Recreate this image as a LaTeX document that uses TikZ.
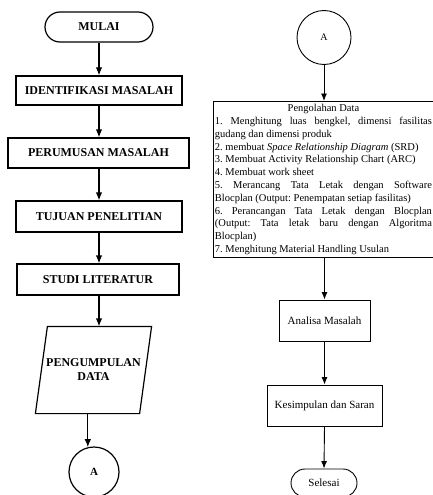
\documentclass[tikz,border=0pt]{standalone}
\usepackage{fontspec}
\setmainfont{Liberation Serif}
\usetikzlibrary{arrows.meta}
\begin{document}
\begin{tikzpicture}[x=1pt,y=-1pt,
  lbox/.style={draw,line width=1.2pt,inner sep=0pt,font=\fontsize{12}{14}\selectfont\bfseries,align=center},
  rbox/.style={draw,line width=0.9pt,inner sep=0pt,font=\fontsize{11}{13}\selectfont,align=center},
  larr/.style={line width=1.2pt,-{Latex[length=8pt,width=6.5pt]}},
  rarr/.style={line width=0.9pt,-{Latex[length=7.5pt,width=6pt]}},
]
\useasboundingbox (0,0) rectangle (432,495);
% left column
\node[lbox, rounded corners=15pt, minimum width=108pt, minimum height=30pt] (mulai) at (99,27) {MULAI};
\node[lbox, minimum width=166pt, minimum height=29pt] (ident) at (99,90.5) {IDENTIFIKASI MASALAH};
\node[lbox, minimum width=181pt, minimum height=30pt] (rumus) at (98.5,153) {PERUMUSAN MASALAH};
\node[lbox, minimum width=166pt, minimum height=31pt] (tujuan) at (99,216.5) {TUJUAN PENELITIAN};
\node[lbox, minimum width=162pt, minimum height=31pt] (studi) at (98,279.5) {STUDI LITERATUR};
\node[lbox, draw=none, minimum width=103pt, minimum height=86pt] (kumpul) at (93.5,370) {PENGUMPULAN\\DATA};
\draw[line width=1.2pt, line join=miter] ([xshift=6pt]kumpul.north west) -- ([xshift=6pt]kumpul.north east)
  -- ([xshift=-6pt]kumpul.south east) -- ([xshift=-6pt]kumpul.south west) -- cycle;
\node[lbox, circle, minimum size=50pt, font=\fontsize{11}{13}\selectfont\bfseries] (a1) at (94,472) {A};
\draw[larr] (mulai.south) -- (mulai.south |- ident.north);
\draw[larr] (mulai.south |- ident.south) -- (mulai.south |- rumus.north);
\draw[larr] (mulai.south |- rumus.south) -- (mulai.south |- tujuan.north);
\draw[larr] (mulai.south |- tujuan.south) -- (mulai.south |- studi.north);
\draw[larr] (mulai.south |- studi.south) -- (mulai.south |- kumpul.north);
\draw[larr] (kumpul.south -| a1.104) -- (a1.104);
% right column
\node[rbox, circle, minimum size=54pt, font=\fontsize{10}{12}\selectfont] (a2) at (324,37.5) {A};
\node[draw, line width=0.9pt, anchor=north west, text width=217pt, inner xsep=1.5pt, inner ysep=3pt, align=justify, font=\fontsize{10.5}{12.8}\selectfont] (olah) at (213,101) {\parindent=0pt\hyphenpenalty=10000\tolerance=10000\frenchspacing%
{\centering Pengolahan Data\par}
1. Menghitung luas bengkel, dimensi fasilitas\linebreak gudang dan dimensi produk\par
2. membuat \textit{Space Relationship Diagram} (SRD)\par
3. Membuat Activity Relationship Chart (ARC)\par
4. Membuat work sheet\par
5. Merancang Tata Letak dengan Software\linebreak Blocplan (Output: Penempatan setiap fasilitas)\par
6. Perancangan Tata Letak dengan Blocplan\linebreak (Output: Tata letak baru dengan Algoritma\linebreak Blocplan)\par
7. Menghitung Material Handling Usulan};
\node[rbox, minimum width=91pt, minimum height=41pt] (analisa) at (324.5,320.5) {Analisa Masalah};
\node[rbox, minimum width=115pt, minimum height=41pt] (simpul) at (324.5,405.5) {Kesimpulan dan Saran};
\node[rbox, rounded corners=14pt, minimum width=66pt, minimum height=28pt] (selesai) at (324,483) {Selesai};
\draw[rarr] (a2.south) -- (a2.south |- olah.north);
\draw[rarr] (analisa.north |- olah.south) -- (analisa.north);
\draw[rarr] (analisa.south) -- (simpul.north);
\draw[rarr] (simpul.south) -- (selesai.north);
\end{tikzpicture}
\end{document}
